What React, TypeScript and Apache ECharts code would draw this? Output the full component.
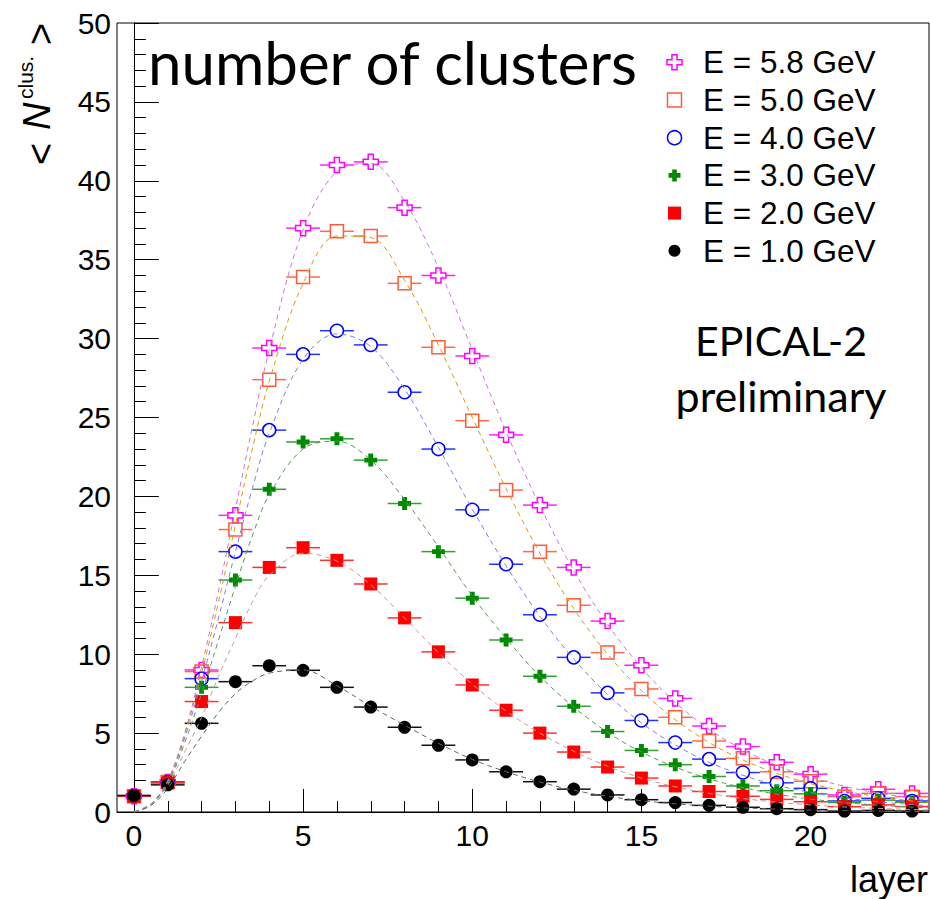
import React, { useEffect, useRef } from 'react';
import * as echarts from 'echarts';

// ---------- data ----------
const layers = [0, 1, 2, 3, 4, 5, 6, 7, 8, 9, 10, 11, 12, 13, 14, 15, 16, 17, 18, 19, 20, 21, 22, 23];
const legendLabels = ['E = 5.8 GeV', 'E = 5.0 GeV', 'E = 4.0 GeV', 'E = 3.0 GeV', 'E = 2.0 GeV', 'E = 1.0 GeV'];

const nE58 = [1.0, 1.9, 9.0, 18.8, 29.4, 37.0, 41.0, 41.2, 38.3, 34.0, 28.9, 23.9, 19.45, 15.5, 12.1, 9.3, 7.2, 5.45, 4.15, 3.15, 2.4, 1.08, 1.44, 1.18];
const nE50 = [1.0, 1.9, 8.9, 17.9, 27.4, 33.9, 36.8, 36.5, 33.5, 29.45, 24.8, 20.4, 16.5, 13.1, 10.1, 7.8, 6.0, 4.5, 3.4, 2.55, 1.95, 0.97, 1.18, 0.97];
const nE40 = [1.0, 1.9, 8.45, 16.5, 24.2, 29.0, 30.5, 29.6, 26.6, 23.0, 19.15, 15.7, 12.5, 9.8, 7.55, 5.8, 4.4, 3.35, 2.5, 1.85, 1.5, 0.7, 0.87, 0.7];
const nE30 = [1.0, 1.85, 7.9, 14.7, 20.45, 23.45, 23.65, 22.3, 19.55, 16.5, 13.55, 10.9, 8.6, 6.7, 5.1, 3.9, 3.0, 2.25, 1.65, 1.35, 1.15, 0.6, 0.75, 0.62];
const nE20 = [1.0, 1.85, 7.0, 12.0, 15.5, 16.75, 15.95, 14.45, 12.3, 10.15, 8.05, 6.45, 5.0, 3.8, 2.85, 2.15, 1.65, 1.3, 1.0, 0.8, 0.65, 0.34, 0.45, 0.34];
const nE10 = [1.05, 1.72, 5.62, 8.26, 9.27, 8.98, 7.9, 6.65, 5.37, 4.23, 3.3, 2.55, 1.92, 1.45, 1.08, 0.78, 0.6, 0.42, 0.3, 0.21, 0.15, 0.06, 0.1, 0.06];

// fitted curves
const fitLayers = [0, 0.5, 1, 1.5, 2, 2.5, 3, 3.5, 4, 5, 6, 7, 8, 9, 10, 11, 12, 13, 14, 15, 16, 17, 18, 19, 20, 21, 22, 23, 23.5];
const fitE58 = [0, 0.5, 2.0, 5.0, 9.2, 14.0, 19.2, 24.4, 29.3, 36.9, 40.6, 41.1, 38.7, 34.5, 29.3, 24.1, 19.4, 15.3, 11.9, 9.15, 6.95, 5.25, 3.95, 2.95, 2.2, 1.63, 1.2, 0.88, 0.75];
const fitE50 = [0, 0.5, 1.95, 4.9, 8.8, 13.3, 18.2, 23.0, 27.3, 33.5, 36.5, 36.4, 33.7, 29.6, 25.0, 20.5, 16.4, 12.9, 10.0, 7.7, 5.85, 4.4, 3.3, 2.45, 1.8, 1.33, 0.97, 0.7, 0.6];
const fitE40 = [0, 0.5, 1.9, 4.7, 8.3, 12.3, 16.5, 20.5, 24.0, 28.7, 30.3, 29.5, 26.8, 23.1, 19.2, 15.6, 12.4, 9.7, 7.45, 5.65, 4.25, 3.15, 2.33, 1.7, 1.24, 0.9, 0.65, 0.47, 0.4];
const fitE30 = [0, 0.5, 1.8, 4.4, 7.5, 10.9, 14.3, 17.5, 20.1, 23.0, 23.5, 22.3, 19.8, 16.8, 13.7, 11.0, 8.6, 6.65, 5.05, 3.8, 2.85, 2.1, 1.55, 1.13, 0.82, 0.6, 0.43, 0.31, 0.26];
const fitE20 = [0, 0.45, 1.7, 3.8, 6.0, 8.6, 11.0, 13.3, 15.0, 16.4, 15.9, 14.4, 12.3, 10.1, 8.1, 6.4, 5.0, 3.85, 2.9, 2.15, 1.6, 1.18, 0.86, 0.62, 0.45, 0.32, 0.23, 0.16, 0.13];
const fitE10 = [0, 0.4, 1.5, 3.2, 4.8, 6.3, 7.5, 8.3, 8.8, 9.0, 8.0, 6.7, 5.5, 4.35, 3.34, 2.55, 1.9, 1.38, 1.0, 0.72, 0.52, 0.37, 0.26, 0.18, 0.12, 0.09, 0.06, 0.04, 0.03];

const xMajorTicks = [0, 5, 10, 15, 20];
const xMinorTicks = layers;

// ---------- styles ----------
const FONT = 'Liberation Sans, Arial, sans-serif';
const OPEN_CROSS = 'path://M3.3,0L6.7,0L6.7,3.3L10,3.3L10,6.7L6.7,6.7L6.7,10L3.3,10L3.3,6.7L0,6.7L0,3.3L3.3,3.3Z';
const FILLED_CROSS = 'path://M3.1,0L6.9,0L6.9,3.1L10,3.1L10,6.9L6.9,6.9L6.9,10L3.1,10L3.1,6.9L0,6.9L0,3.1L3.1,3.1Z';

type Def = {
  name: string; data: number[]; fit: number[]; color: string; barColor: string; fitColor: string;
  symbol: string; size: number; open: boolean; legendShape: string; legendSize: number;
};

const defs: Def[] = [
  { name: legendLabels[0], data: nE58, fit: fitE58, color: '#ff00ff', barColor: '#ff22ff', fitColor: '#cc77dd', symbol: OPEN_CROSS, size: 15, open: true, legendShape: 'cross', legendSize: 15 },
  { name: legendLabels[1], data: nE50, fit: fitE50, color: '#ff5a3a', barColor: '#ff6a4a', fitColor: '#dd9a10', symbol: 'rect', size: 13, open: true, legendShape: 'rect', legendSize: 14 },
  { name: legendLabels[2], data: nE40, fit: fitE40, color: '#0000ff', barColor: '#2233ff', fitColor: '#7a80f0', symbol: 'circle', size: 13, open: true, legendShape: 'circle', legendSize: 14 },
  { name: legendLabels[3], data: nE30, fit: fitE30, color: '#008a00', barColor: '#33a033', fitColor: '#5a9a5a', symbol: FILLED_CROSS, size: 13, open: false, legendShape: 'cross', legendSize: 12 },
  { name: legendLabels[4], data: nE20, fit: fitE20, color: '#ff0000', barColor: '#ff3030', fitColor: '#cc9a9a', symbol: 'rect', size: 13, open: false, legendShape: 'rect', legendSize: 13 },
  { name: legendLabels[5], data: nE10, fit: fitE10, color: '#000000', barColor: '#111111', fitColor: '#666666', symbol: 'circle', size: 13, open: false, legendShape: 'circle', legendSize: 12 },
];

function crossPoints(cx: number, cy: number, s: number, t: number) {
  const h = s / 2, a = t / 2;
  const pts = [[-a, -h], [a, -h], [a, -a], [h, -a], [h, a], [a, a], [a, h], [-a, h], [-a, a], [-h, a], [-h, -a], [-a, -a]];
  return pts.map(([x, y]) => [cx + x, cy + y]);
}

function buildOption() {
  const series: any[] = [];
  defs.forEach((d) => {
    const pts = layers.map((l, k) => [l, d.data[k]]);
    const gap = d.size / 2;
    series.push({
      type: 'custom',
      name: d.name + ' err',
      silent: true,
      clip: true,
      data: pts,
      renderItem: (params: any, api: any) => {
        const x = api.value(0), y = api.value(1);
        const l = api.coord([x - 0.5, y]);
        const r = api.coord([x + 0.5, y]);
        const c = api.coord([x, y]);
        return {
          type: 'group',
          children: [
            { type: 'line', shape: { x1: l[0], y1: l[1], x2: c[0] - gap, y2: c[1] }, style: { stroke: d.barColor, lineWidth: 1.5 } },
            { type: 'line', shape: { x1: c[0] + gap, y1: c[1], x2: r[0], y2: r[1] }, style: { stroke: d.barColor, lineWidth: 1.5 } },
          ],
        };
      },
    });
    series.push({
      type: 'scatter',
      name: d.name,
      silent: true,
      data: pts,
      symbol: d.symbol,
      symbolSize: d.size,
      itemStyle: d.open
        ? { color: 'rgba(255,255,255,0)', borderColor: d.color, borderWidth: 1.5, opacity: 1 }
        : { color: d.color, opacity: 1 },
    });
    series.push({
      type: 'line',
      name: d.name + ' fit',
      silent: true,
      data: fitLayers.map((x, k) => [x, d.fit[k]]),
      smooth: 0.35,
      showSymbol: false,
      symbol: 'none',
      lineStyle: { color: d.fitColor, width: 1, type: [5, 4] },
    });
  });

  const graphic: any[] = [];
  // title
  graphic.push({ type: 'text', x: 148, y: 61.8, style: { text: 'number of clusters', fontFamily: 'Lato', fontSize: 60, fill: '#000', align: 'left', verticalAlign: 'middle' } });
  graphic.push({ type: 'text', x: 781, y: 340, style: { text: 'EPICAL-2', fontFamily: 'Lato', fontSize: 41, fill: '#000', align: 'center', verticalAlign: 'middle' } });
  graphic.push({ type: 'text', x: 781, y: 395.5, style: { text: 'preliminary', fontFamily: 'Lato', fontSize: 43, fill: '#000', align: 'center', verticalAlign: 'middle' } });
  // x axis title
  graphic.push({ type: 'text', x: 928, y: 879, style: { text: 'layer', fontFamily: FONT, fontSize: 36, fill: '#000', align: 'right', verticalAlign: 'middle' } });
  // y axis title (rotated)
  graphic.push({
    type: 'group', x: 37, y: 166, rotation: Math.PI / 2,
    children: [
      { type: 'text', x: 1, y: 4, style: { text: '<', fontFamily: FONT, fontSize: 38, fill: '#000', align: 'left', verticalAlign: 'middle' } },
      { type: 'text', x: 36, y: 0, style: { text: 'N', fontFamily: FONT, fontStyle: 'italic', fontSize: 38, fill: '#000', align: 'left', verticalAlign: 'middle' } },
      { type: 'text', x: 67, y: -12, style: { text: 'clus.', fontFamily: FONT, fontSize: 21, fill: '#000', align: 'left', verticalAlign: 'middle' } },
      { type: 'text', x: 121, y: 4, style: { text: '>', fontFamily: FONT, fontSize: 38, fill: '#000', align: 'left', verticalAlign: 'middle' } },
    ],
  });
  // legend
  const rowY0 = 62.3, rowStep = 37.7, mx = 674.5, tx = 703;
  defs.forEach((d, i) => {
    const cy = rowY0 + i * rowStep;
    const s = d.legendSize;
    const style: any = d.open
      ? { fill: 'rgba(255,255,255,0)', stroke: d.color, lineWidth: 1.5 }
      : { fill: d.color };
    if (d.legendShape === 'cross') {
      graphic.push({ type: 'polygon', shape: { points: crossPoints(mx, cy, s, s * (d.open ? 0.34 : 0.38)) }, style });
    } else if (d.legendShape === 'rect') {
      graphic.push({ type: 'rect', shape: { x: mx - s / 2, y: cy - s / 2, width: s, height: s }, style });
    } else {
      graphic.push({ type: 'circle', shape: { cx: mx, cy, r: s / 2 }, style });
    }
    graphic.push({ type: 'text', x: tx, y: cy, style: { text: d.name, fontFamily: FONT, fontSize: 31.5, fill: '#000', align: 'left', verticalAlign: 'middle' } });
  });

  return {
    animation: false,
    backgroundColor: '#ffffff',
    grid: { left: 117, right: 1, top: 23, bottom: 87, show: true, borderColor: '#000', borderWidth: 1, backgroundColor: 'transparent' },
    xAxis: [
      {
        type: 'value', min: -0.5, max: 23.5, position: 'bottom',
        axisLine: { show: true, onZero: false, lineStyle: { color: '#000', width: 1 } },
        axisTick: { show: true, inside: true, length: 23, customValues: xMajorTicks, lineStyle: { color: '#000', width: 1 } },
        axisLabel: { show: true, customValues: xMajorTicks, color: '#000', fontSize: 30, fontFamily: FONT, margin: 8 },
        splitLine: { show: false },
      },
      {
        type: 'value', min: -0.5, max: 23.5, position: 'bottom',
        axisLine: { show: false, onZero: false },
        axisTick: { show: true, inside: true, length: 11, customValues: xMinorTicks, lineStyle: { color: '#000', width: 1 } },
        axisLabel: { show: false },
        splitLine: { show: false },
      },
    ],
    yAxis: {
      type: 'value', min: 0, max: 50, interval: 5,
      axisLine: { show: true, lineStyle: { color: '#000', width: 1 } },
      axisTick: { show: true, inside: true, length: 25, lineStyle: { color: '#000', width: 1 } },
      minorTick: { show: true, splitNumber: 5, length: 12, lineStyle: { color: '#000', width: 1 } },
      axisLabel: { color: '#000', fontSize: 30, fontFamily: FONT, margin: 6 },
      splitLine: { show: false },
      minorSplitLine: { show: false },
    },
    series,
    graphic,
  };
}

export default function App() {
  const ref = useRef<HTMLDivElement>(null);
  useEffect(() => {
    if (!ref.current) return;
    const chart = echarts.init(ref.current, null, { renderer: 'svg' });
    chart.setOption(buildOption() as any);
    return () => chart.dispose();
  }, []);
  return <div ref={ref} style={{ position: 'absolute', left: 0, top: 0, width: 930, height: 899, background: '#fff' }} />;
}
